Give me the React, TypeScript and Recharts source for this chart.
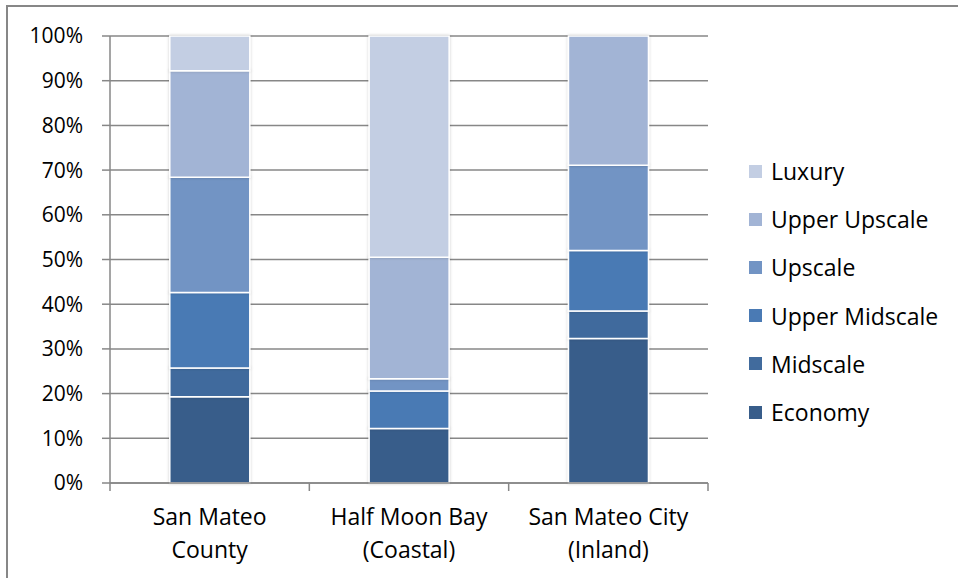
import React from "react";
import { BarChart, Bar, XAxis, YAxis, CartesianGrid, Legend } from "recharts";

const categories = ["San Mateo\nCounty", "Half Moon Bay\n(Coastal)", "San Mateo City\n(Inland)"];
const economy = [19.3, 12.2, 32.3];
const midscale = [6.4, 0, 6.2];
const upperMidscale = [16.9, 8.4, 13.5];
const upscale = [25.8, 2.7, 19.1];
const upperUpscale = [23.8, 27.2, 28.9];
const luxury = [7.8, 49.5, 0];
const yTicks = [0, 0.1, 0.2, 0.3, 0.4, 0.5, 0.6, 0.7, 0.8, 0.9, 1];

const seriesNames = ["Economy", "Midscale", "Upper Midscale", "Upscale", "Upper Upscale", "Luxury"];
const seriesValues = [economy, midscale, upperMidscale, upscale, upperUpscale, luxury];
const seriesColors = ["#385d8a", "#416b9d", "#4a7ab4", "#7294c4", "#a2b4d5", "#c3cee3"];

const data = categories.map((c, i) => {
  const row: Record<string, string | number> = { name: c };
  seriesNames.forEach((s, k) => {
    row[s] = seriesValues[k][i];
  });
  return row;
});

const W = 958;
const H = 578;
const M_LEFT = 110;
const M_RIGHT = 250;
const M_TOP = 36;
const X_H = 95;
const BAND = (W - M_LEFT - M_RIGHT) / categories.length;
const GRID = "#878787";
const FONT = "'Open Sans', sans-serif";

const CatTick = (props: any) => {
  const { x, y, payload, index } = props;
  const lines = String(payload.value).split("\n");
  const isLast = index === categories.length - 1;
  return (
    <g>
      <line x1={x - BAND / 2} x2={x - BAND / 2} y1={y} y2={y + 8} stroke={GRID} strokeWidth={1.5} />
      {isLast && (
        <line x1={x + BAND / 2} x2={x + BAND / 2} y1={y} y2={y + 8} stroke={GRID} strokeWidth={1.5} />
      )}
      {lines.map((l, i) => (
        <text key={i} x={x} y={y + 42 + i * 33} textAnchor="middle" fontFamily={FONT} fontSize={23} fill="#000">
          {l}
        </text>
      ))}
    </g>
  );
};

const renderLegend = () => {
  const items = seriesNames.map((n, i) => ({ n, c: seriesColors[i] })).reverse();
  return (
    <div style={{ fontFamily: FONT, fontSize: 23, color: "#000" }}>
      {items.map((it) => (
        <div key={it.n} style={{ display: "flex", alignItems: "center", height: 48.2 }}>
          <div style={{ width: 13, height: 13, background: it.c, marginRight: 9 }} />
          <span style={{ lineHeight: "26px", whiteSpace: "nowrap" }}>{it.n}</span>
        </div>
      ))}
    </div>
  );
};

export default function App() {
  return (
    <div style={{ position: "absolute", left: 0, top: 0, width: W, height: H, background: "#fff", overflow: "hidden" }}>
      <div
        style={{
          position: "absolute",
          left: 6,
          top: 5,
          width: W,
          height: H,
          borderTop: `2px solid ${GRID}`,
          borderLeft: `2px solid ${GRID}`,
        }}
      />
      <BarChart
        width={W}
        height={H}
        data={data}
        stackOffset="expand"
        barCategoryGap="30%"
        margin={{ top: M_TOP, right: M_RIGHT, bottom: 0, left: 0 }}
        style={{ position: "absolute", left: 0, top: 0 }}
      >
        <defs>
          <filter id="sh" x="-20%" y="-20%" width="140%" height="140%">
            <feDropShadow dx="0" dy="0" stdDeviation="1.5" floodColor="#000" floodOpacity="0.2" />
          </filter>
        </defs>
        <CartesianGrid vertical={false} stroke={GRID} strokeWidth={1.5} />
        <XAxis
          dataKey="name"
          height={X_H}
          axisLine={{ stroke: GRID, strokeWidth: 1.5 }}
          tickLine={false}
          tickSize={0}
          tickMargin={0}
          interval={0}
          tick={<CatTick />}
        />
        <YAxis
          width={M_LEFT}
          domain={[0, 1]}
          ticks={yTicks}
          interval={0}
          tickFormatter={(v: number) => `${Math.round(v * 100)}%`}
          axisLine={{ stroke: GRID, strokeWidth: 1.5 }}
          tickLine={{ stroke: GRID, strokeWidth: 1.5 }}
          tickSize={8}
          tickMargin={19}
          tick={{ fontFamily: FONT, fontSize: 21, fill: "#000" }}
        />
        <Legend
          content={renderLegend}
          layout="vertical"
          align="center"
          verticalAlign="middle"
          wrapperStyle={{ position: "absolute", left: 749, top: 147, width: 208 }}
        />
        {seriesNames.map((s, i) => (
          <Bar
            key={s}
            dataKey={s}
            stackId="a"
            fill={seriesColors[i]}
            stroke="#fff"
            strokeWidth={1.5}
            filter="url(#sh)"
            isAnimationActive={false}
          />
        ))}
      </BarChart>
    </div>
  );
}
